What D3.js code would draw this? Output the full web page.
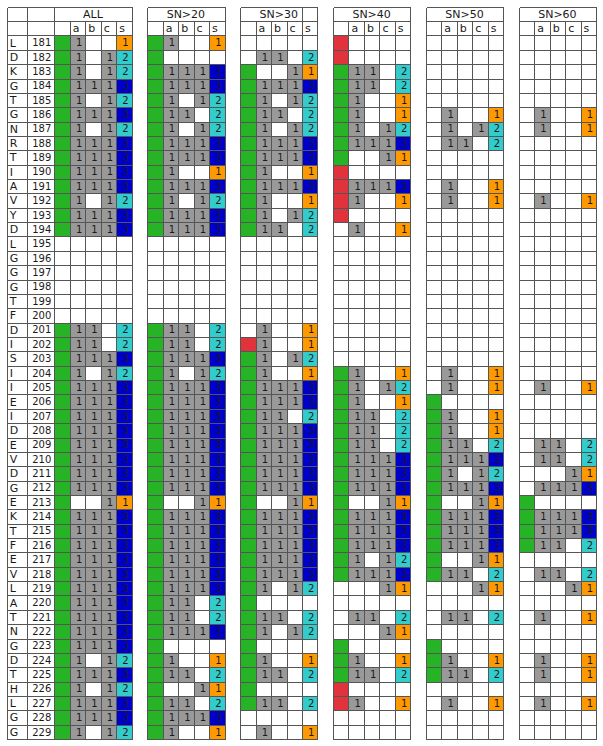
<!DOCTYPE html>
<html>
<head>
<meta charset="utf-8">
<script src="https://cdn.jsdelivr.net/npm/d3@7"></script>
<style>
  body { margin: 0; background: #fff; }
  text { font-family: "DejaVu Sans", Verdana, sans-serif; fill: #1a1a1a; }
</style>
</head>
<body>
<div id="container"></div>
<script>
/* CONSTANTS AND GLOBALS */
const width = 603, height = 746;
const colW = 15.48;
const tableLeft = 6.7, letterRight = 26.7, numRight = 54.3;

/* DATA */
const groups = ["ALL", "SN>20", "SN>30", "SN>40", "SN>50", "SN>60"];
const subCols = ["", "a", "b", "c", "s"];
const positions = [181, 182, 183, 184, 185, 186, 187, 188, 189, 190, 191, 192, 193, 194, 195, 196, 197,
  198, 199, 200, 201, 202, 203, 204, 205, 206, 207, 208, 209, 210, 211, 212, 213, 214, 215, 216, 217,
  218, 219, 220, 221, 222, 223, 224, 225, 226, 227, 228, 229];
const residues = ["L", "D", "K", "G", "T", "G", "N", "R", "T", "I", "A", "V", "Y", "D", "L", "G", "G",
  "G", "T", "F", "D", "I", "S", "I", "I", "E", "I", "D", "E", "V", "D", "G", "E", "K", "T", "F", "E",
  "V", "L", "A", "T", "N", "G", "D", "T", "H", "L", "G", "G"];

// each code: flag (G green, R red, - none), a, b, c, s
const cellsAll = ("G1001 G1012 G1012 G1113 G1012 G1113 G1012 G1113 G1113 G1113 G1113 G1012 G1113 G1113 " +
  "-0000 -0000 -0000 -0000 -0000 -0000 G1102 G1102 G1113 G1012 G1113 G1113 G1113 G1113 G1113 G1113 " +
  "G1113 G1113 G0011 G1113 G1113 G1113 G1113 G1113 G1113 G1113 G1113 G1113 G1113 G1012 G1113 G1012 " +
  "G1113 G1113 G1012").split(" ");
const cellsSN20 = ("G1001 G0000 G1113 G1113 G1012 G1102 G1012 G1113 G1113 G1001 G1113 G1012 G1113 G1113 " +
  "-0000 -0000 -0000 -0000 -0000 -0000 G1102 G1102 G1113 G1012 G1113 G1113 G1113 G1113 G1113 G1113 " +
  "G1113 G1113 G0011 G1113 G1113 G1113 G1113 G1113 G1113 G1102 G1102 G1113 G0000 G1001 G1102 G0011 " +
  "G1102 G1113 G1001").split(" ");
const cellsSN30 = ("-0000 -1102 G0011 G1113 G1012 G1102 G1012 G1113 G1113 G1001 G1113 G1001 G1012 G1102 " +
  "-0000 -0000 -0000 -0000 -0000 -0000 -1001 R1001 G1012 G1001 G1113 G1113 G1102 G1113 G1113 G1113 " +
  "G1113 G1113 G0011 G1113 G1113 G1113 G1113 G1113 G1012 G0000 G1102 G1012 G0000 G1001 G1102 G0000 " +
  "G1102 -0000 -1001").split(" ");
const cellsSN40 = ("R0000 R0000 G1102 G1102 G1001 G1001 G1012 G1113 G0011 R0000 R1113 R1001 R0000 -1001 " +
  "-0000 -0000 -0000 -0000 -0000 -0000 -0000 -0000 -0000 G1001 G1012 G1001 G1102 G1102 G1102 G1113 " +
  "G1113 G1113 G0011 G1113 G1113 G1113 G1012 G1113 -0011 -0000 -1102 -0011 G0000 G1001 G1102 R0000 " +
  "R1001 -0000 -0000").split(" ");
const cellsSN50 = ("-0000 -0000 -0000 -0000 -0000 -1001 -1012 -1102 -0000 -0000 -1001 -1001 -0000 -0000 " +
  "-0000 -0000 -0000 -0000 -0000 -0000 -0000 -0000 -0000 -1001 -1001 G0000 G1001 G1001 G1102 G1113 " +
  "G1012 G1113 G0011 G1113 G1113 G1113 G0011 G1102 -0011 -0000 -1102 -0000 G0000 G1001 G1102 -0000 " +
  "-1001 -0000 -0000").split(" ");
const cellsSN60 = ("-0000 -0000 -0000 -0000 -0000 -1001 -1001 -0000 -0000 -0000 -0000 -1001 -0000 -0000 " +
  "-0000 -0000 -0000 -0000 -0000 -0000 -0000 -0000 -0000 -0000 -1001 -0000 -0000 -0000 -1102 -1102 " +
  "-0011 -1113 G0000 G1113 G1113 G1102 -0000 -1102 -0011 -0000 -1001 -0000 -0000 -1001 -1001 -0000 " +
  "-1001 -0000 -0000").split(" ");
const groupCells = [cellsAll, cellsSN20, cellsSN30, cellsSN40, cellsSN50, cellsSN60];

const flagColor = { G: "#26b426", R: "#e0333b" };
const countColor = { "1": "#ff9900", "2": "#33cccc", "3": "#0000cc" };
const markGray = "#999999";
const lineColor = "#555555";

/* SCALES */
const yScale = d3.scaleBand()
  .domain(["h1", "h2", ...positions])
  .range([tableLeft, 739.1]);
// column index -> left edge (6 columns per group: flag, a, b, c, s, gap)
const xScale = d3.scaleLinear()
  .domain([0, 1])
  .range([numRight, numRight + colW]);

const px = v => Math.round(v) + 0.5;

/* SVG */
const svg = d3.select("#container")
  .append("svg")
  .attr("width", width)
  .attr("height", height);

const fills = svg.append("g");
const lines = svg.append("g")
  .attr("stroke", lineColor)
  .attr("stroke-width", 1)
  .attr("shape-rendering", "crispEdges");
const labels = svg.append("g");

// cell records
const cellData = [];
groups.forEach((g, gi) => {
  groupCells[gi].forEach((code, ri) => {
    const row = positions[ri];
    if (code[0] !== "-") cellData.push({ gi, j: 0, row, fill: flagColor[code[0]], txt: "" });
    for (let j = 1; j <= 3; j++) {
      if (code[j] === "1") cellData.push({ gi, j, row, fill: markGray, txt: "1" });
    }
    if (code[4] !== "0") cellData.push({ gi, j: 4, row, fill: countColor[code[4]], txt: code[4] });
  });
});

fills.selectAll("rect")
  .data(cellData)
  .join("rect")
  .attr("x", d => Math.round(xScale(d.gi * 6 + d.j)))
  .attr("y", d => Math.round(yScale(d.row)))
  .attr("width", d => Math.round(xScale(d.gi * 6 + d.j + 1)) - Math.round(xScale(d.gi * 6 + d.j)))
  .attr("height", d => Math.round(yScale(d.row) + yScale.step()) - Math.round(yScale(d.row)))
  .attr("fill", d => d.fill);

labels.selectAll(".digit")
  .data(cellData.filter(d => d.txt))
  .join("text")
  .attr("class", "digit")
  .attr("x", d => xScale(d.gi * 6 + d.j + 1) - 3)
  .attr("y", d => yScale(d.row) + yScale.step() / 2 + 3.6)
  .attr("text-anchor", "end")
  .attr("font-size", 10)
  .text(d => d.txt);

// left columns: residue letters and numbers
labels.selectAll(".res")
  .data(positions)
  .join("text")
  .attr("class", "res")
  .attr("x", tableLeft + 3)
  .attr("y", d => yScale(d) + yScale.step() / 2 + 3.9)
  .attr("font-size", 11)
  .text((d, i) => residues[i]);

labels.selectAll(".num")
  .data(positions)
  .join("text")
  .attr("class", "num")
  .attr("x", numRight - 3)
  .attr("y", d => yScale(d) + yScale.step() / 2 + 3.6)
  .attr("text-anchor", "end")
  .attr("font-size", 10)
  .text(d => d);

// group headers
labels.selectAll(".grp")
  .data(groups)
  .join("text")
  .attr("class", "grp")
  .attr("x", (d, i) => (xScale(i * 6) + xScale(i * 6 + 5)) / 2)
  .attr("y", yScale("h1") + yScale.step() / 2 + 4)
  .attr("text-anchor", "middle")
  .attr("font-size", 11)
  .text(d => d);

groups.forEach((g, gi) => {
  labels.selectAll(".sub" + gi)
    .data(subCols.slice(1))
    .join("text")
    .attr("class", "sub" + gi)
    .attr("x", (d, i) => xScale(gi * 6 + i + 1) + 3)
    .attr("y", yScale("h2") + yScale.step() / 2 + 4)
    .attr("font-size", 11)
    .text(d => d);
});

/* GRID LINES */
const gridTop = yScale("h1"), gridBottom = yScale(positions[positions.length - 1]) + yScale.step();
const rowEdges = yScale.domain().map(d => yScale(d)).concat([gridBottom]);

// left block
[tableLeft, letterRight, numRight].forEach(xv => {
  lines.append("line").attr("x1", px(xv)).attr("x2", px(xv)).attr("y1", px(gridTop)).attr("y2", px(gridBottom));
});
rowEdges.forEach(yv => {
  lines.append("line").attr("x1", px(tableLeft)).attr("x2", px(numRight)).attr("y1", px(yv)).attr("y2", px(yv));
});

groups.forEach((g, gi) => {
  const x0 = xScale(gi * 6), x1 = xScale(gi * 6 + 5);
  for (let j = 0; j <= 5; j++) {
    const xv = xScale(gi * 6 + j);
    // inner lines start below the group title, except SN>30 which splits off the s column
    const fromTop = j === 0 || j === 5 || (g === "SN>30" && j === 4);
    lines.append("line")
      .attr("x1", px(xv)).attr("x2", px(xv))
      .attr("y1", px(fromTop ? gridTop : yScale("h2"))).attr("y2", px(gridBottom));
  }
  rowEdges.forEach(yv => {
    lines.append("line").attr("x1", px(x0)).attr("x2", px(x1)).attr("y1", px(yv)).attr("y2", px(yv));
  });
});
</script>
</body>
</html>
